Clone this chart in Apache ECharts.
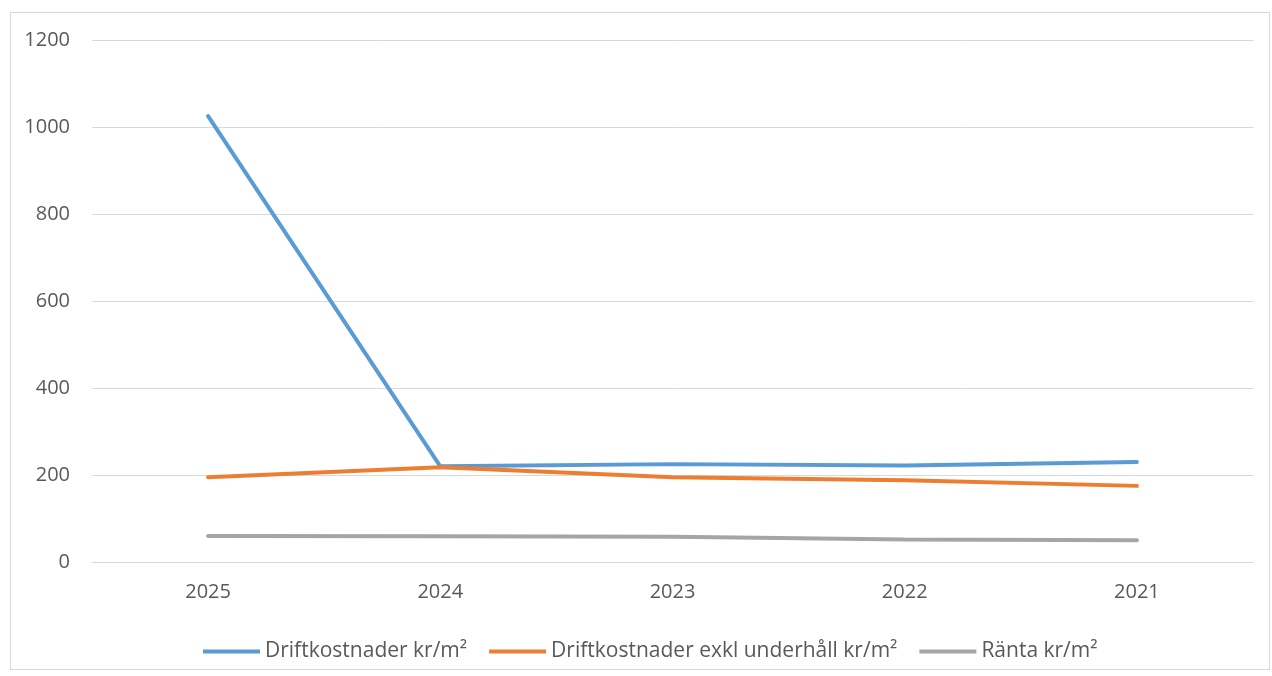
<!DOCTYPE html>
<html><head><meta charset="utf-8">
<script src="https://cdn.jsdelivr.net/npm/echarts@6/dist/echarts.min.js"></script>
<style>html,body{margin:0;padding:0;background:#fff}#c{width:1272px;height:676px}
#frame{position:absolute;left:10px;top:12px;width:1260px;height:658px;border:1px solid #d9d9d9;box-sizing:border-box;pointer-events:none}</style>
</head><body><div id="c"></div><div id="frame"></div>
<script>
const categories = ['2025', '2024', '2023', '2022', '2021'];
const driftkostnader = [1025, 220, 225, 222, 230];
const driftExklUnderhall = [195, 218, 195, 188, 175];
const ranta = [60, 59, 58, 52, 50];
const yTicks = [0, 200, 400, 600, 800, 1000, 1200];

const font = '"Open Sans", sans-serif';
const chart = echarts.init(document.getElementById('c'));
chart.setOption({
  animation: false,
  textStyle: { fontFamily: font },
  grid: { left: 92, right: 19, top: 40, bottom: 114, containLabel: false },
  xAxis: {
    type: 'category', data: categories, boundaryGap: true,
    axisLine: { show: true, lineStyle: { color: '#d9d9d9', width: 1 } },
    axisTick: { show: false },
    axisLabel: { color: '#595959', fontSize: 20, margin: 20, fontFamily: font }
  },
  yAxis: {
    type: 'value', min: yTicks[0], max: yTicks[yTicks.length - 1], interval: 200,
    axisLine: { show: false }, axisTick: { show: false },
    splitLine: { lineStyle: { color: '#d9d9d9', width: 1 } },
    axisLabel: { color: '#595959', fontSize: 20, margin: 22, fontFamily: font,
      formatter: v => String(v) }
  },
  legend: {
    top: 636, left: 198, icon: 'rect', itemWidth: 57, itemHeight: 4, itemGap: 22,
    textStyle: { color: '#595959', fontSize: 21, fontFamily: font },
    data: ['Driftkostnader kr/m²', 'Driftkostnader exkl underhåll kr/m²', 'Ränta kr/m²']
  },
  series: [
    { name: 'Driftkostnader kr/m²', type: 'line', data: driftkostnader, symbol: 'none',
      lineStyle: { color: '#5B9BD5', width: 4, cap: 'round' }, itemStyle: { color: '#5B9BD5' } },
    { name: 'Driftkostnader exkl underhåll kr/m²', type: 'line', data: driftExklUnderhall, symbol: 'none',
      lineStyle: { color: '#ED7D31', width: 4, cap: 'round' }, itemStyle: { color: '#ED7D31' } },
    { name: 'Ränta kr/m²', type: 'line', data: ranta, symbol: 'none',
      lineStyle: { color: '#A5A5A5', width: 4, cap: 'round' }, itemStyle: { color: '#A5A5A5' } }
  ]
});
</script></body></html>
